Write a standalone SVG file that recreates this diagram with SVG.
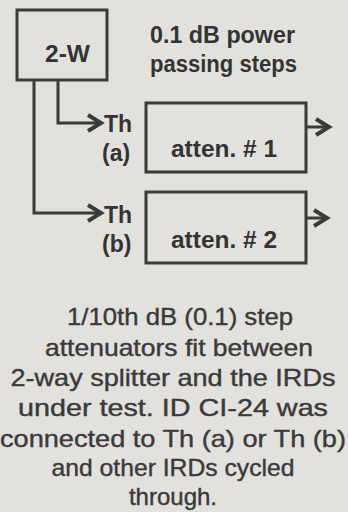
<svg xmlns="http://www.w3.org/2000/svg" width="348" height="512" viewBox="0 0 348 512">
  <defs>
    <style>
      .box { fill: none; stroke: #3a3a3a; stroke-width: 3; }
      .wire { fill: none; stroke: #3a3a3a; stroke-width: 3; }
      .head { fill: none; stroke: #3a3a3a; stroke-width: 4; stroke-linejoin: miter; stroke-linecap: butt; }
      .lbl { font-family: "Liberation Sans", Arial, sans-serif; font-weight: bold; font-size: 23px; fill: #333; }
      .cap { font-family: "Liberation Sans", Arial, sans-serif; font-size: 24px; fill: #3a3a3a; stroke: #3a3a3a; stroke-width: 0.4; text-anchor: middle; }
    </style>
  </defs>

  <rect x="0" y="0" width="348" height="512" fill="#e3e1dd"/>

  <!-- splitter -->
  <g id="splitter">
    <rect class="box" x="17" y="10" width="90" height="70"/>
    <text class="lbl" x="45" y="62" textLength="45" lengthAdjust="spacingAndGlyphs">2-W</text>
  </g>

  <g id="title">
    <text class="lbl" x="150" y="43" textLength="145" lengthAdjust="spacingAndGlyphs">0.1 dB power</text>
    <text class="lbl" x="150" y="72" textLength="147" lengthAdjust="spacingAndGlyphs">passing steps</text>
  </g>

  <!-- attenuator 1 -->
  <g id="atten1">
    <rect class="box" x="146" y="103" width="160" height="69"/>
    <text class="lbl" x="171" y="157" textLength="106" lengthAdjust="spacingAndGlyphs">atten. # 1</text>
  </g>

  <!-- attenuator 2 -->
  <g id="atten2">
    <rect class="box" x="146" y="192" width="160" height="71"/>
    <text class="lbl" x="171" y="248" textLength="106" lengthAdjust="spacingAndGlyphs">atten. # 2</text>
  </g>

  <!-- port labels -->
  <g id="portA">
    <text class="lbl" x="104" y="132">Th</text>
    <text class="lbl" x="102" y="161">(a)</text>
  </g>
  <g id="portB">
    <text class="lbl" x="104" y="223">Th</text>
    <text class="lbl" x="102" y="252">(b)</text>
  </g>

  <!-- connectors -->
  <g id="connectors">
    <polyline class="wire" points="58,80 58,123 100,123"/>
    <polyline class="head" points="88,115 101,123 88,131"/>
    <polyline class="wire" points="34,80 34,213 100,213"/>
    <polyline class="head" points="88,205 101,213 88,221"/>
    <line class="wire" x1="306" y1="127" x2="328" y2="127"/>
    <polyline class="head" points="316,119 329,127 316,135"/>
    <line class="wire" x1="306" y1="218" x2="326" y2="218"/>
    <polyline class="head" points="314,210 327,218 314,226"/>
  </g>

  <!-- caption -->
  <g id="caption">
    <text class="cap" x="180" y="325" textLength="226" lengthAdjust="spacingAndGlyphs">1/10th dB (0.1) step</text>
    <text class="cap" x="179" y="356" textLength="268" lengthAdjust="spacingAndGlyphs">attenuators fit between</text>
    <text class="cap" x="173" y="386" textLength="325" lengthAdjust="spacingAndGlyphs">2-way splitter and the IRDs</text>
    <text class="cap" x="173" y="416" textLength="310" lengthAdjust="spacingAndGlyphs">under test. ID CI-24 was</text>
    <text class="cap" x="173" y="447" textLength="346" lengthAdjust="spacingAndGlyphs">connected to Th (a) or Th (b)</text>
    <text class="cap" x="173" y="476" textLength="243" lengthAdjust="spacingAndGlyphs">and other IRDs cycled</text>
    <text class="cap" x="173" y="505">through.</text>
  </g>
</svg>
